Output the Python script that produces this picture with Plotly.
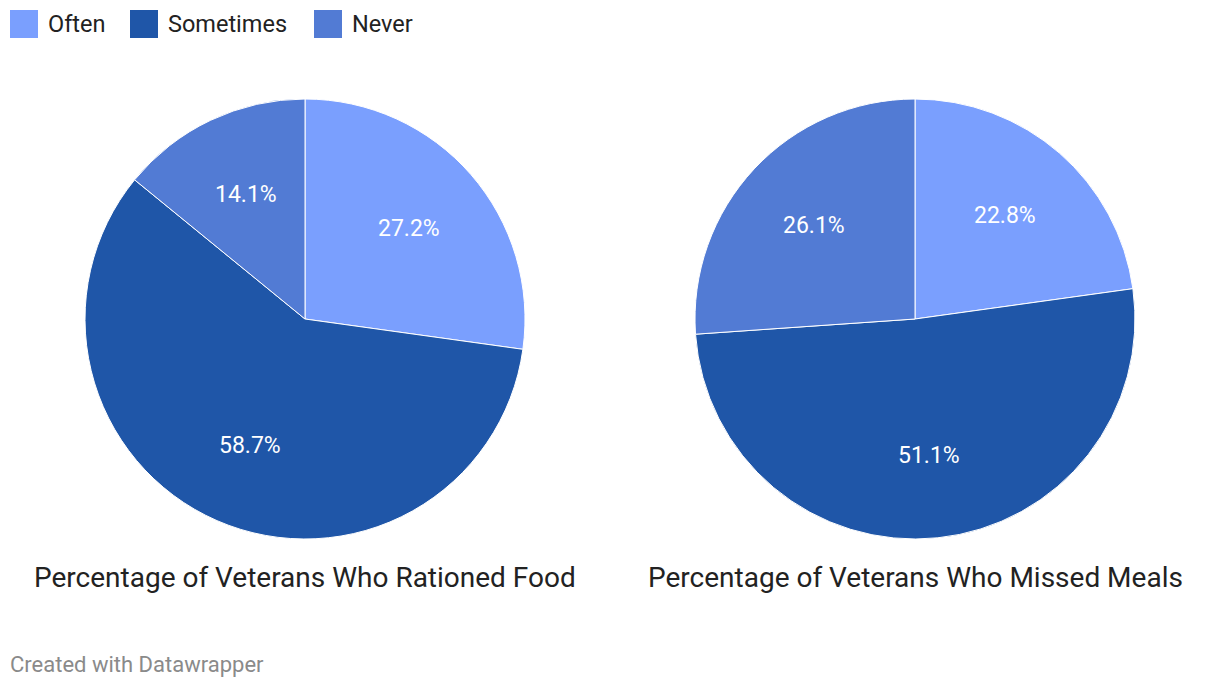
import math
import plotly.graph_objects as go

categories = ["Often", "Sometimes", "Never"]
rationed = [27.2, 58.7, 14.1]
missed = [22.8, 51.1, 26.1]
titles = ["Percentage of Veterans Who Rationed Food", "Percentage of Veterans Who Missed Meals"]
colors = ["#7a9ffe", "#1f56a8", "#527bd4"]

OFF = 8  # page body margin
W, H = 1220 - 2 * OFF, 688 - 2 * OFF
R = 220
cy = 319
centers = [305, 915]


def px(x):
    return (x - OFF) / W


def py(y):
    return 1 - (y - OFF) / H


fig = go.Figure()
for i, (vals, cx) in enumerate(zip([rationed, missed], centers)):
    fig.add_trace(go.Pie(
        labels=categories, values=vals, sort=False, direction="clockwise", rotation=0,
        marker=dict(colors=colors, line=dict(color="white", width=1)),
        textinfo="none", hoverinfo="label+value",
        domain=dict(x=[px(cx - R), px(cx + R)], y=[py(cy + R), py(cy - R)]),
        showlegend=False,
    ))
    total = sum(vals)
    cum = 0.0
    for v in vals:
        mid = (cum + v / 2) / total * 2 * math.pi
        cum += v
        lx = cx + 0.625 * R * math.sin(mid)
        ly = cy - 0.625 * R * math.cos(mid)
        fig.add_annotation(text=f"{v:.1f}%", x=px(lx), y=py(ly), xref="paper", yref="paper",
                           showarrow=False, xanchor="center", yanchor="middle",
                           font=dict(size=23, color="white", family="Roboto"))
    fig.add_annotation(text=titles[i], x=px(cx), y=py(577), xref="paper", yref="paper",
                       showarrow=False, xanchor="center", yanchor="middle",
                       font=dict(size=28, color="#222222", family="Roboto"))

# legend
sw_x = [10, 130, 314]
for cat, col, x0 in zip(categories, colors, sw_x):
    fig.add_shape(type="rect", xref="paper", yref="paper",
                  x0=px(x0), x1=px(x0 + 28), y0=py(38), y1=py(10),
                  fillcolor=col, line=dict(width=0))
    fig.add_annotation(text=cat, x=px(x0 + 36), y=py(24), xref="paper", yref="paper",
                       showarrow=False, xanchor="left", yanchor="middle",
                       font=dict(size=23.5, color="#222222", family="Roboto"))

fig.add_annotation(text="Created with Datawrapper", x=px(8), y=py(664), xref="paper", yref="paper",
                   showarrow=False, xanchor="left", yanchor="middle",
                   font=dict(size=22, color="#8a8a8a", family="Roboto"))

fig.update_layout(
    width=W, height=H, margin=dict(l=0, r=0, t=0, b=0),
    paper_bgcolor="white", plot_bgcolor="white",
    font=dict(family="Roboto"), showlegend=False,
)
fig.write_html("out.html")
